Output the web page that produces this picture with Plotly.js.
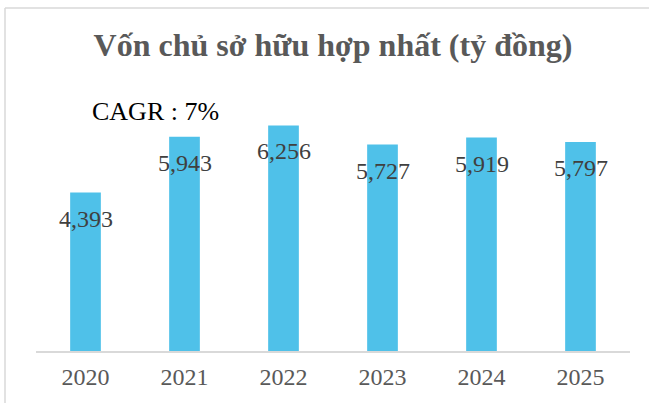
<!DOCTYPE html>
<html>
<head>
<meta charset="utf-8">
<script src="https://cdn.plot.ly/plotly-3.0.1.min.js"></script>
<style>
  html, body { margin: 0; padding: 0; background: #ffffff; }
  #chart { width: 649px; height: 403px; }
</style>
</head>
<body>
<div id="chart"></div>
<script>
const years = ["2020", "2021", "2022", "2023", "2024", "2025"];
const equity = [4393, 5943, 6256, 5727, 5919, 5797];
const valueLabels = ["4,393", "5,943", "6,256", "5,727", "5,919", "5,797"];
const titleText = "Vốn chủ sở hữu hợp nhất (tỷ đồng)";
const cagrText = "CAGR : 7%";

const serif = '"Liberation Serif", "Times New Roman", Times, serif';

const W = 649, H = 403;
const mL = 36, mR = 19, mT = 40, mB = 52;
const plotW = W - mL - mR, plotH = H - mT - mB;
const px2x = p => (p - mL) / plotW;
const px2y = p => (H - mB - p) / plotH;

const trace = {
  type: 'bar',
  x: years,
  y: equity,
  marker: { color: '#4FC1E9', line: { width: 0 } },
  hoverinfo: 'skip'
};

// category axis: annotation positions given as category indices
const annotations = years.map((yr, i) => ({
  x: i, y: equity[i], xref: 'x', yref: 'y',
  text: valueLabels[i], showarrow: false,
  yanchor: 'middle', xanchor: 'center', yshift: -26,
  font: { family: serif, size: 24, color: '#404040' }
}));
annotations.push({
  xref: 'paper', yref: 'paper', x: px2x(90), y: px2y(111),
  xanchor: 'left', yanchor: 'middle', showarrow: false,
  text: cagrText, font: { family: serif, size: 26, color: '#000000' }
});

const layout = {
  width: W, height: H,
  margin: { l: mL, r: mR, t: mT, b: mB, pad: 0 },
  paper_bgcolor: '#ffffff', plot_bgcolor: '#ffffff',
  showlegend: false,
  bargap: 0.69,
  title: {
    text: '<b>' + titleText + '</b>',
    x: (mL + plotW / 2) / W, xanchor: 'center',
    y: 1 - 45 / H, yanchor: 'middle',
    font: { family: serif, size: 32, color: '#595959' }
  },
  xaxis: {
    type: 'category', range: [-0.5, years.length - 0.5], autorange: false,
    showline: true, linecolor: '#D9D9D9', linewidth: 1.5,
    ticks: '', showgrid: false, zeroline: false, ticklabelstandoff: 4,
    tickfont: { family: serif, size: 24, color: '#595959' }
  },
  yaxis: {
    visible: false, range: [0, (H - mB - mT) / (209 / 5797)], autorange: false,
    showgrid: false, zeroline: false
  },
  annotations: annotations,
  shapes: [
    { type: 'line', xref: 'paper', yref: 'paper', x0: px2x(5), x1: px2x(660), y0: px2y(8), y1: px2y(8),
      line: { color: '#D9D9D9', width: 1.5 } },
    { type: 'line', xref: 'paper', yref: 'paper', x0: px2x(5), x1: px2x(5), y0: px2y(8), y1: px2y(410),
      line: { color: '#D9D9D9', width: 1.5 } }
  ]
};

Plotly.newPlot('chart', [trace], layout, { displayModeBar: false, staticPlot: true });
</script>
</body>
</html>
